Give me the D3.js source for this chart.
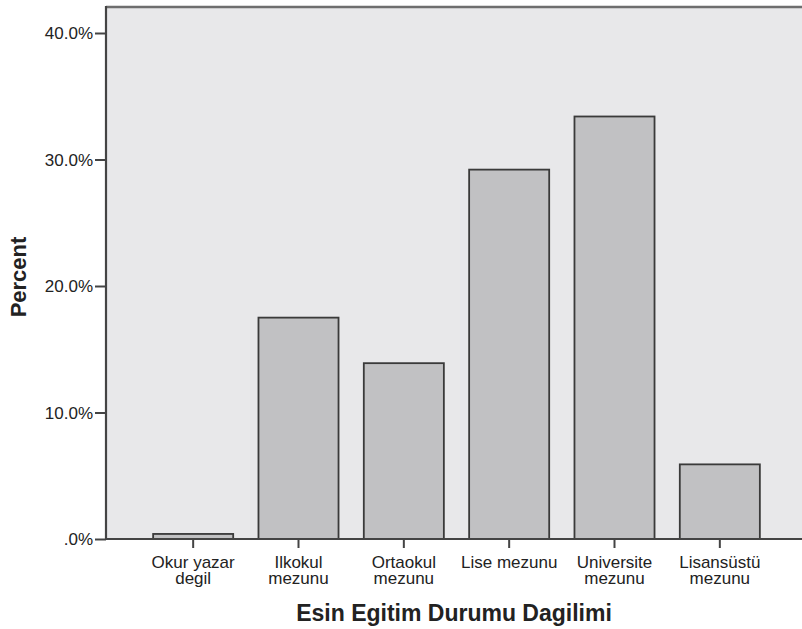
<!DOCTYPE html>
<html><head><meta charset="utf-8">
<script src="https://cdn.jsdelivr.net/npm/d3@7"></script>
<style>body{margin:0;background:#fff;} text{font-family:"Liberation Sans",Arial,sans-serif;fill:#222;}</style>
</head><body>
<svg id="c" width="802" height="629"></svg>
<script>
const categories = [["Okur yazar","degil"],["Ilkokul","mezunu"],["Ortaokul","mezunu"],["Lise mezunu"],["Universite","mezunu"],["Lisansüstü","mezunu"]];
const percents = [0.4, 17.5, 13.9, 29.2, 33.4, 5.9];
const yTicks = [0, 10, 20, 30, 40];
const yTickLabels = [".0%", "10.0%", "20.0%", "30.0%", "40.0%"];

const svg = d3.select("#c");
const plot = {left:106, right:802, top:7, bottom:539};
svg.append("rect").attr("x",plot.left).attr("y",plot.top).attr("width",plot.right-plot.left).attr("height",plot.bottom-plot.top).attr("fill","#e8e8ea");
svg.append("line").attr("x1",plot.left).attr("x2",plot.right).attr("y1",plot.top).attr("y2",plot.top).attr("stroke","#6e6e6e").attr("stroke-width",2.5);

const x = d3.scaleBand().domain(d3.range(categories.length)).range([140.5, 772.5]).paddingInner(0.24).paddingOuter(0.12);
const y = d3.scaleLinear().domain([0, 40]).range([plot.bottom, 33]);

svg.selectAll("rect.bar").data(percents).join("rect").attr("class","bar")
  .attr("x",(d,i)=>x(i)).attr("width",x.bandwidth())
  .attr("y",d=>y(d)).attr("height",d=>y(0)-y(d))
  .attr("fill","#c1c1c3").attr("stroke","#3a3a3a").attr("stroke-width",1.8);

// y axis
const ya = svg.append("g").attr("transform",`translate(${plot.left},0)`)
  .call(d3.axisLeft(y).tickValues(yTicks).tickFormat((d,i)=>yTickLabels[i]).tickSize(11).tickPadding(2));
ya.attr("font-size",null).attr("font-family",null);
ya.select(".domain").remove();
ya.selectAll(".tick line").attr("stroke","#444").attr("stroke-width",2);
ya.selectAll(".tick text").style("font-size","17px").attr("fill","#222").attr("dy","0.35em");
svg.append("line").attr("x1",plot.left).attr("x2",plot.left).attr("y1",plot.top-1).attr("y2",plot.bottom+1).attr("stroke","#444").attr("stroke-width",2.2);

// x axis
const xa = svg.append("g").attr("transform",`translate(0,${plot.bottom})`)
  .call(d3.axisBottom(x).tickSize(9).tickFormat(""));
xa.select(".domain").remove();
xa.selectAll(".tick line").attr("stroke","#444").attr("stroke-width",2);
svg.append("line").attr("x1",plot.left).attr("x2",plot.right).attr("y1",plot.bottom).attr("y2",plot.bottom).attr("stroke","#444").attr("stroke-width",2.2);

categories.forEach((lines,i)=>{
  const cx = x(i)+x.bandwidth()/2;
  const t = svg.append("text").attr("x",cx).attr("y",568).attr("text-anchor","middle").style("font-size","17px");
  lines.forEach((l,j)=>t.append("tspan").attr("x",cx).attr("dy",j===0?0:16).text(l));
});

svg.append("text").attr("x",454).attr("y",621).attr("text-anchor","middle").style("font-size","23px").attr("font-weight","bold").text("Esin Egitim Durumu Dagilimi");
svg.append("text").attr("transform","translate(26,277) rotate(-90)").attr("text-anchor","middle").style("font-size","22px").attr("font-weight","bold").text("Percent");
</script>
</body></html>
